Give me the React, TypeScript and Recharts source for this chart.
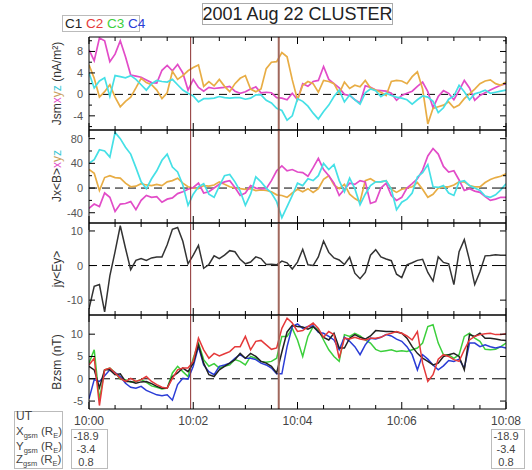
import React from 'react';
import { LineChart, Line, XAxis, YAxis, ReferenceLine } from 'recharts';

// minutes after 10:00 UT
const times = [
  0, 0.1, 0.2, 0.3, 0.4, 0.5, 0.6, 0.7, 0.8, 0.9,
  1, 1.1, 1.2, 1.3, 1.4, 1.5, 1.6, 1.7, 1.8, 1.9,
  2, 2.1, 2.2, 2.3, 2.4, 2.5, 2.6, 2.7, 2.8, 2.9,
  3, 3.1, 3.2, 3.3, 3.4, 3.5, 3.6, 3.7, 3.8, 3.9,
  4, 4.1, 4.2, 4.3, 4.4, 4.5, 4.6, 4.7, 4.8, 4.9,
  5, 5.1, 5.2, 5.3, 5.4, 5.5, 5.6, 5.7, 5.8, 5.9,
  6, 6.1, 6.2, 6.3, 6.4, 6.5, 6.6, 6.7, 6.8, 6.9,
  7, 7.1, 7.2, 7.3, 7.4, 7.5, 7.6, 7.7, 7.8, 7.9, 8,
];
const xTicks = [0, 0.5, 1, 1.5, 2, 2.5, 3, 3.5, 4, 4.5, 5, 5.5, 6, 6.5, 7, 7.5, 8];
const timeLabels = ['10:00', '10:02', '10:04', '10:06', '10:08'];
const markerTimes = [1.95, 3.64];

// Panel 1: Jsm xyz (nA/m^2)
const jsmX = [
  8.3, 6.3, 10.5, 10.0, 6.1, 7.5, 10.0, 7.0, 3.6, 3.4,
  3.2, 2.7, 2.2, 2.1, 4.5, 5.4, 4.4, 5.6, 4.0, 0.8,
  2.8, 1.3, 0.6, 1.3, 1.1, 1.2, 1.3, 1.5, 0.6, 0.2,
  0.5, 1.0, 1.4, 0.3, 0.4, 0.3, -0.6, -0.7, -1.0, 0.2,
  -1.0, 2.0, 1.5, 2.4, 2.6, 5.2, 2.8, 2.0, 1.2, 0.0,
  -0.2, -1.0, -1.6, 1.6, 1.3, 0.8, 0.7, 0.6, 0.2, -1.1,
  -0.2, 0.2, 0.6, 1.5, 2.3, 0.5, -2.5, -0.4, 0.7, 0.2,
  -1.0, 0.7, 2.6, 1.2, -1.1, -0.2, 0.3, 0.8, 1.3, 1.7, 2.0,
];
const jsmY = [
  5.5, 3.0, -0.5, 0.5, 1.8, -0.5, -2.3, -1.3, -0.5, 1.2,
  3.0, 2.2, 1.8, 0.8, -0.8, 0.3, 4.3, 2.8, 3.5, 4.4,
  5.0, 5.5, 1.5, 2.4, 1.6, 2.8, 1.5, 0.5, 2.0, 3.0,
  3.5, 1.0, 0.5, 1.0, 4.8, 6.0, 6.1, 7.8, 7.0, 2.7,
  -1.0, 1.7, 2.4, 2.0, 0.4, 2.6, 2.4, 2.0, 0.2, 2.3,
  1.1, 1.7, 1.4, 2.6, 1.2, 0.8, 0.4, -0.2, 2.4, 2.6,
  2.5, 2.0, 3.3, 4.2, 1.0, -5.5, -2.6, -2.3, -2.0, -1.4,
  -2.5, -2.0, -0.8, 0.1, 1.0, 2.0, 2.5, 2.7, 2.0, 1.7, 2.3,
];
const jsmZ = [
  4.0, 1.2, 2.5, 3.1, -0.4, 3.5, 3.3, 3.1, 3.5, 2.8,
  1.8, 0.8, 2.0, 2.6, 2.4, 2.3, 2.8, 1.8, 0.8, 0.2,
  -0.3, -1.4, -0.8, -0.8, -0.7, -0.4, -0.6, -0.7, -0.6, -0.6,
  -0.9, -0.7, -0.1, -0.1, -1.1, -1.6, -2.6, -3.0, -4.8, -4.0,
  -0.8, -1.3, -2.2, -3.5, -4.6, -3.2, -2.0, -0.4, 0.8, -1.4,
  -0.1, -1.0, -1.8, 0.3, 1.0, 0.7, -0.4, 0.2, -0.2, -0.5,
  -0.7, -1.0, -1.8, -1.0, -0.3, -0.5, -1.3, -3.4, -2.5, -0.9,
  -0.3, 1.7, 0.5, -1.0, 0.1, 0.4, 0.8, 0.2, 0.4, 0.6, 0.8,
];

// Panel 2: Jx<B> xyz
const jxbX = [
  -33, -26, -30, -8, -15, -38, -26, -25, -22, -35,
  -20, -12, -15, -14, -23, -18, -16, -9, -6, -2,
  1, 8, -8, -6, 0, 6, 10, 12, 1, -12,
  -8, 4, 0, -1, -1, 12, 28, 36, 28, 30,
  26, 25, 19, 33, 48, 30, 20, 8, -12, -2,
  8, 6, 12, 10, -25, -22, 0, 8, -12, -20,
  -15, 0, 7, 15, 29, 52, 64, 55, 35, 26,
  28, 13, -4, -1, -5, -7, -14, -20, -18, -15, -15,
];
const jxbY = [
  30, 24, -4, 17, 20, 17, 16, 8, 2, 3,
  7, 5, 4, 6, 4, 10, 12, 16, 8, 2,
  0, -1, 4, 3, 5, 10, 6, 2, 0, -1,
  -2, -1, -4, -3, -4, -6, -11, -12, -15, -8,
  -2, -6, -1, -7, -1, 14, 20, 5, -1, 6,
  -10, -17, -22, 12, 15, 10, 10, 12, -2, -7,
  -2, 0, 2, 9, -2, -15, -10, 0, 2, 2,
  5, 10, 10, 4, 2, 2, 9, 14, 17, 19, 23,
];
const jxbZ = [
  40, 46, 62, 60, 50, 90, 80, 66, 55, 33,
  10, -1, 15, 28, 45, 55, 34, 26, 5, -28,
  -10, 2, 7, -10, -15, 3, 20, 22, 10, -5,
  -28, -10, 18, 10, 0, -8, -22, -48, -30, -12,
  8, 4, 15, 12, 20, 40, 30, 38, 12, -6,
  16, -1, -27, -10, 4, 10, 10, 12, -2, -35,
  -23, -18, -8, 18, 25, 38, 2, 1, 4, -8,
  -12, 10, 12, 4, 0, -4, -13, -15, -11, -3, 7,
];

// Panel 3: jy<Ey>
const jyEy = [
  -12.5, -6, -5.5, -13.4, -3, 4, 11.5, 5, -1.2, 1.5,
  2.0, 1.5, 2.2, 2.5, 2.5, 6, 10.5, 11, 7, 0.5,
  3, 5.8, -0.8, 0.3, 2.8, 2, 3, 4.3, 4, 1.8,
  0.5, 1, 2.5, 2, 0.3, 0.4, 0.2, 1.3, 0.8, -1,
  1, 4.7, 0.2, 0, 2.5, 7.1, 3.8, 2.2, 1.6, 0.3,
  2.4, -2.2, -3.8, -2, 3, 4.6, 2.5, 1.9, 1.4, -2.5,
  -3.5, 0.2, 0.8, 1.5, 1.8, -2, -4.5, 2.5, 0.9, 0.5,
  -5.5, 4, 7.5, 1.5, -5.5, -1.8, 2.8, 2.9, 3.1, 3, 3,
];

// Panel 4: Bz GSM (nT) for C1..C4
const bzC1 = [
  2.8, 2.0, -2.0, 2.0, 2.0, 0.9, 1.1, -0.6, -0.6, -1.0,
  -0.7, -0.6, -1.1, -1.7, -2.1, -2.1, 0.5, 1.3, 2.4, 1.6,
  3.5, 7.6, 3.5, 0.9, 0.5, 2.0, 2.8, 3.5, 4.3, 5.7,
  4.6, 5.7, 5.0, 3.9, 3.5, 2.8, 1.3, 6.0, 10.5, 12.0,
  11.7, 11.6, 11.1, 11.7, 10.6, 9.3, 8.7, 10.2, 6.9, 6.9,
  9.1, 9.9, 9.3, 8.9, 9.6, 10.8, 10.7, 10.6, 10.6, 10.5,
  10.2, 9.1, 7.2, 5.7, 4.6, 3.9, 3.1, 3.5, 5.0, 5.4,
  5.7, 5.0, 2.0, 9.9, 9.5, 10.2, 9.1, 9.1, 8.9, 8.7, 8.6,
];
const bzC2 = [
  3.1, 4.6, -6.0, 2.0, 2.4, 1.3, 0.1, -0.6, 0.1, -0.6,
  -0.2, 0.5, -0.6, -1.3, -1.9, -2.1, 0.1, 2.0, 2.4, 2.4,
  3.9, 9.1, 6.5, 4.6, 5.7, 5.1, 5.6, 6.1, 7.2, 7.2,
  9.5, 6.5, 8.4, 8.6, 7.6, 6.6, 6.9, 11.3, 13.6, 12.5,
  10.6, 10.8, 11.7, 12.5, 11.3, 9.3, 10.6, 9.9, 4.6, 9.1,
  8.9, 9.3, 8.9, 8.7, 9.1, 9.1, 9.3, 9.9, 10.2, 10.6,
  10.2, 9.6, 8.7, 10.6, 3.5, -0.6, 0.9, 4.4, 5.4, 5.0,
  4.3, 3.9, 6.5, 8.7, 9.5, 9.9, 10.1, 10.2, 9.9, 9.9, 10.1,
];
const bzC3 = [
  3.5, 6.5, -4.7, 2.0, 2.4, 1.4, -0.1, -0.2, -0.8, -0.6,
  -0.2, -0.8, -1.6, -1.9, -2.3, -2.1, 1.3, 2.8, 1.6, 0.5,
  4.6, 8.0, 4.3, 2.8, 3.4, 2.4, 2.8, 3.1, 4.3, 3.9,
  3.1, 5.0, 4.6, 3.9, 3.7, 3.9, 4.6, 9.5, 9.5, 11.3,
  8.7, 5.0, 9.5, 11.7, 11.0, 8.7, 6.5, 5.0, 3.9, 9.9,
  9.5, 10.2, 9.6, 8.7, 8.0, 6.6, 6.1, 6.3, 6.5, 6.1,
  6.3, 6.1, 6.5, 6.9, 8.0, 11.7, 12.1, 8.0, 5.4, 5.4,
  4.6, 5.4, 9.5, 10.2, 9.1, 8.4, 6.6, 6.5, 6.6, 7.2, 8.0,
];
const bzC4 = [
  -4.5, -0.2, -0.6, 0.7, 2.0, 1.4, 0.5, -1.0, -1.9, -2.1,
  -1.7, -2.6, -3.1, -3.6, -3.8, -3.6, -4.8, -1.3, 0.1, -0.1,
  2.8, 7.2, 3.1, 1.6, 0.9, 2.8, 3.1, 3.5, 4.6, 5.4,
  4.6, 4.6, 4.3, 3.5, 3.1, 2.4, 1.1, 1.1, 7.2, 11.7,
  12.3, 11.3, 11.7, 11.9, 10.4, 10.2, 9.5, 8.7, 6.5, 9.3,
  8.4, 7.2, 5.4, 7.6, 9.1, 8.9, 9.3, 9.9, 9.6, 8.9,
  8.4, 7.2, 5.4, 2.0, 5.4, 4.4, 3.1, 2.0, 2.9, 4.1,
  3.9, 4.4, 2.4, 8.0, 8.0, 7.2, 7.6, 7.2, 6.9, 7.2, 6.9,
];

const posLabels = ['UT', 'X', 'Y', 'Z'];
const posStart = ['-18.9', '-3.4', '0.8'];
const posEnd = ['-18.9', '-3.4', '0.8'];
const spacecraft = ['C1', 'C2', 'C3', 'C4'];

const FONT = '"Liberation Sans", Arial, Helvetica, sans-serif';
const MAGENTA = '#e24cc8';
const ORANGE = '#e8ad45';
const CYAN = '#45e0e6';
const scColors = ['#222222', '#e5393a', '#3ccf3c', '#2a3cd6'];

const build = (cols: Record<string, number[]>) =>
  times.map((t, i) => {
    const row: Record<string, number> = { t };
    Object.keys(cols).forEach((k) => {
      row[k] = cols[k][i];
    });
    return row;
  });

const panels = [
  {
    top: 37, h: 93, domain: [-6.64, 10.7], yTicks: [-6, -4, -2, 0, 2, 4, 6, 8, 10], major: [-4, 0, 4, 8],
    data: build({ a: jsmX, b: jsmY, c: jsmZ }),
    series: [{ k: 'a', c: MAGENTA }, { k: 'b', c: ORANGE }, { k: 'c', c: CYAN }], w: 1.7,
  },
  {
    top: 130, h: 93, domain: [-56.6, 94], yTicks: [-40, -20, 0, 20, 40, 60, 80], major: [-40, 0, 40, 80],
    data: build({ a: jxbX, b: jxbY, c: jxbZ }),
    series: [{ k: 'b', c: ORANGE }, { k: 'a', c: MAGENTA }, { k: 'c', c: CYAN }], w: 1.7,
  },
  {
    top: 223, h: 92, domain: [-14.3, 12.3], yTicks: [-10, 0, 10], major: [-10, 0, 10],
    data: build({ a: jyEy }),
    series: [{ k: 'a', c: '#333333' }], w: 1.5,
  },
  {
    top: 315, h: 94, domain: [-6.78, 14.3], yTicks: [-5, 0, 5, 10], major: [-5, 0, 5, 10],
    data: build({ a: bzC3, b: bzC4, c: bzC1, d: bzC2 }),
    series: [{ k: 'a', c: scColors[2] }, { k: 'b', c: scColors[3] }, { k: 'c', c: scColors[0] }, { k: 'd', c: scColors[1] }], w: 1.5,
  },
];

const makeLeftTick = (major: number[]) => (props: any) => {
  const { x, y, payload } = props;
  const v = payload.value;
  const isMajor = major.includes(v);
  return (
    <g>
      <line x1={x} x2={x + (isMajor ? 6 : 3)} y1={y} y2={y} stroke="#000" />
      {isMajor && (
        <text x={x - 6} y={y + 4} textAnchor="end" fontSize={11} fill="#555" fontFamily={FONT}>
          {v}
        </text>
      )}
    </g>
  );
};
const makeRightTick = (major: number[]) => (props: any) => {
  const { x, y, payload } = props;
  const isMajor = major.includes(payload.value);
  return <line x1={x} x2={x - (isMajor ? 6 : 3)} y1={y} y2={y} stroke="#000" />;
};
const topTick = (props: any) => {
  const { x, y, payload } = props;
  const major = payload.value % 2 === 0;
  return <line x1={x} x2={x} y1={y} y2={y + (major ? 7 : 4)} stroke="#000" />;
};
const makeBottomTick = (labels: boolean) => (props: any) => {
  const { x, y, payload } = props;
  const v = payload.value;
  const major = v % 2 === 0;
  return (
    <g>
      <line x1={x} x2={x} y1={y} y2={y - (major ? 7 : 4)} stroke="#000" />
      {labels && major && (
        <text x={x} y={y + 16} textAnchor="middle" fontSize={12} fill="#444" fontFamily={FONT}>
          {timeLabels[v / 2]}
        </text>
      )}
    </g>
  );
};

function Panel({ p, last }: { p: any; last: boolean }) {
  const bottomH = last ? 30 : 1;
  return (
    <div style={{ position: 'absolute', left: 0, top: p.top - 1 }}>
      <LineChart width={532} height={p.h + 1 + bottomH} data={p.data} margin={{ top: 0, right: 25, bottom: 0, left: 0 }}>
        <XAxis xAxisId="b" dataKey="t" type="number" domain={[0, 8]} ticks={xTicks} interval={0}
          tickSize={0} tickMargin={0} tickLine={false} tick={makeBottomTick(last)} height={bottomH}
          axisLine={{ stroke: '#000' }} allowDataOverflow />
        <XAxis xAxisId="t" orientation="top" dataKey="t" type="number" domain={[0, 8]} ticks={xTicks} interval={0}
          tickSize={0} tickMargin={0} tickLine={false} tick={topTick} height={1}
          axisLine={{ stroke: '#000' }} allowDataOverflow />
        <YAxis yAxisId="l" type="number" domain={p.domain} ticks={p.yTicks} interval={0} width={89}
          tickSize={0} tickMargin={0} tickLine={false} tick={makeLeftTick(p.major)}
          axisLine={{ stroke: '#000' }} allowDataOverflow />
        <YAxis yAxisId="r" orientation="right" type="number" domain={p.domain} ticks={p.yTicks} interval={0} width={1}
          tickSize={0} tickMargin={0} tickLine={false} tick={makeRightTick(p.major)}
          axisLine={{ stroke: '#000' }} allowDataOverflow />
        <ReferenceLine xAxisId="b" yAxisId="l" y={0} stroke="#000" strokeDasharray="8 5" />
        {p.series.map((s: any) => (
          <Line key={s.k} xAxisId="b" yAxisId="l" type="linear" dataKey={s.k} stroke={s.c} strokeWidth={p.w}
            dot={false} activeDot={false} isAnimationActive={false} />
        ))}
        <ReferenceLine xAxisId="b" yAxisId="l" x={markerTimes[0]} stroke="#8b2e2e" strokeWidth={1} />
        <ReferenceLine xAxisId="b" yAxisId="l" x={markerTimes[1]} stroke="#a0675c" strokeWidth={2} />
      </LineChart>
    </div>
  );
}

const Sub = ({ children }: { children: React.ReactNode }) => (
  <tspan fontSize={7.5} dy={2.5}>{children}</tspan>
);

export default function App() {
  const rowY = [420, 435, 450, 463];
  const valY = [440, 453, 466];
  return (
    <div style={{ position: 'absolute', left: 0, top: 0, width: 532, height: 470, background: '#fff', fontFamily: FONT, overflow: 'hidden' }}>
      {panels.map((p, i) => (
        <Panel key={i} p={p} last={i === panels.length - 1} />
      ))}
      <svg width={532} height={470} style={{ position: 'absolute', left: 0, top: 0, pointerEvents: 'none' }} fontFamily={FONT}>
        {/* title */}
        <rect x={202.5} y={3.5} width={190} height={21} fill="#fff" stroke="#aaa" />
        <text x={297.5} y={20} textAnchor="middle" fontSize={18} fill="#222">2001 Aug 22 CLUSTER</text>
        {/* legend */}
        <rect x={62.5} y={15.5} width={77} height={16} fill="#fff" stroke="#bbb" />
        <text x={65} y={28} fontSize={13.5}>
          {spacecraft.map((s, i) => (
            <tspan key={s} fill={scColors[i]}>{(i ? ' ' : '') + s}</tspan>
          ))}
        </text>
        {/* y titles */}
        <text transform="translate(61,83.5) rotate(-90)" textAnchor="middle" fontSize={12} fill="#333">
          Jsm<tspan fill={MAGENTA}>x</tspan><tspan fill="#c9a060">y</tspan><tspan fill="#3cc8d4">z</tspan> (nA/m²)
        </text>
        <text transform="translate(61,176) rotate(-90)" textAnchor="middle" fontSize={12} fill="#333">
          Jx&lt;B&gt;<tspan fill={MAGENTA}>x</tspan><tspan fill="#c9a060">y</tspan><tspan fill="#3cc8d4">z</tspan>
        </text>
        <text transform="translate(61,269) rotate(-90)" textAnchor="middle" fontSize={12} fill="#333">jy&lt;Ey&gt;</text>
        <text transform="translate(61,362) rotate(-90)" textAnchor="middle" fontSize={12} fill="#333">Bzsm (nT)</text>
        {/* orbit table */}
        <rect x={14.5} y={411.5} width={48} height={57} fill="none" stroke="#bbb" />
        <text x={16} y={rowY[0]} fontSize={12} fill="#444">{posLabels[0]}</text>
        {posLabels.slice(1).map((l, i) => (
          <text key={l} x={16} y={rowY[i + 1]} fontSize={11.5} fill="#444">
            {l}<Sub>gsm</Sub><tspan dy={-2.5}> (R</tspan><Sub>E</Sub><tspan dy={-2.5}>)</tspan>
          </text>
        ))}
        <rect x={71.5} y={429.5} width={36} height={39} fill="none" stroke="#bbb" />
        {posStart.map((v, i) => (
          <text key={i} x={86} y={valY[i]} textAnchor="middle" fontSize={11} fill="#444">{v}</text>
        ))}
        <rect x={491.5} y={429.5} width={33} height={39} fill="none" stroke="#bbb" />
        {posEnd.map((v, i) => (
          <text key={i} x={506} y={valY[i]} textAnchor="middle" fontSize={11} fill="#444">{v}</text>
        ))}
      </svg>
    </div>
  );
}
